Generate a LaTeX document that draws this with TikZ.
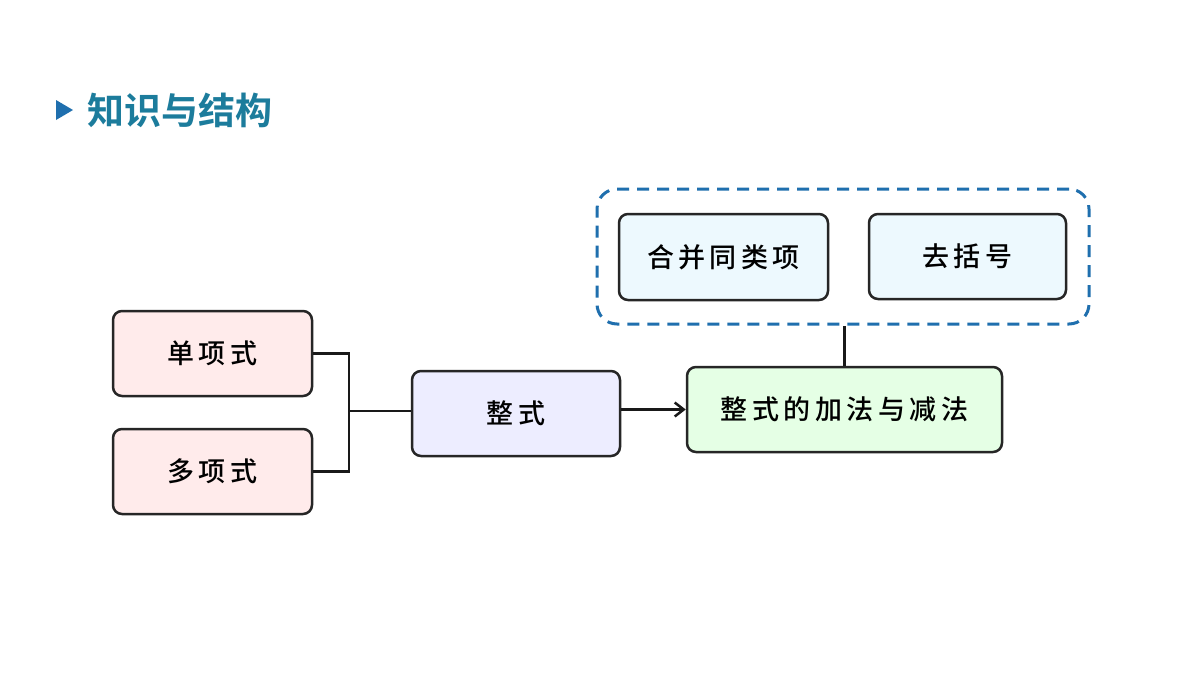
\documentclass[tikz,border=0pt]{standalone}
\usepackage{fontspec}
\usetikzlibrary{arrows.meta}
\newfontfamily\cjk{Noto Sans CJK SC Medium}
\newfontfamily\cjkb{Noto Sans CJK SC Bold}
\definecolor{ttl}{HTML}{1C7C9C}
\definecolor{dsh}{HTML}{1F6FAE}
\begin{document}
\begin{tikzpicture}[x=1pt,y=-1pt,
 box/.style={draw=black!85,line width=2.5pt,rounded corners=9pt,inner sep=0pt,font=\cjk\fontsize{27}{27}\selectfont},
 con/.style={line width=2.5pt,draw=black!90}]
\useasboundingbox (0,0) rectangle (1200,675);
\fill[white] (0,0) rectangle (1200,675);
\fill[dsh] (56,100) -- (73,110) -- (56,120) -- cycle;
\node[anchor=west,text=ttl,font=\cjkb\fontsize{37}{37}\selectfont] (title) at (84,110) {知识与结构};
\node[box,fill=red!8,minimum width=199pt,minimum height=85pt] (a) at (212.5,353.5) {单\,项\,式};
\node[box,fill=red!8,minimum width=199pt,minimum height=85pt] (b) at (212.5,471.5) {多\,项\,式};
\node[box,fill=blue!7,minimum width=208pt,minimum height=85pt] (c) at (516,413.5) {整\,式};
\node[box,fill=green!10,minimum width=315pt,minimum height=85pt] (d) at (844.5,409.5) {整\,式\,的\,加\,法\,与\,减\,法};
\node[draw=dsh,line width=3pt,dash pattern=on 12pt off 8pt,rounded corners=20pt,minimum width=492pt,minimum height=135pt] (g) at (843,256.5) {};
\node[box,fill=cyan!7,minimum width=209pt,minimum height=86pt] (e) at (723.5,257) {合\,并\,同\,类\,项};
\node[box,fill=cyan!7,minimum width=197pt,minimum height=85pt] (f) at (967.5,256.5) {去\,括\,号};
\coordinate (j) at (349,411);
\draw[con] (a.east) -| (j) |- (b.east);
\draw[con] (j) -- (j -| c.west);
\draw[con,-{Straight Barb[length=9pt,width=14pt]}] (c.east |- d.west) -- (d.west);
\draw[con] (d.north) -- (d.north |- g.south);
\end{tikzpicture}
\end{document}
